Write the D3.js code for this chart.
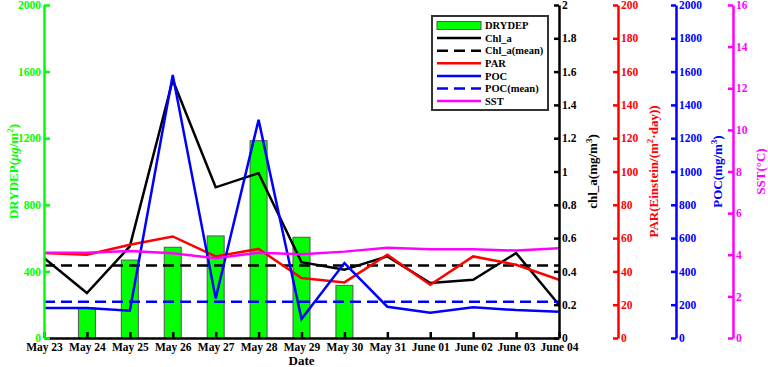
<!DOCTYPE html>
<html>
<head>
<meta charset="utf-8">
<script src="https://cdn.jsdelivr.net/npm/d3@7"></script>
<style>
  body { margin: 0; background: #fff; }
  svg text { font-family: "Liberation Serif", "Times New Roman", serif; font-weight: bold; }
</style>
</head>
<body>
<script>
// Data
const dates = ["May 23", "May 24", "May 25", "May 26", "May 27", "May 28", "May 29",
               "May 30", "May 31", "June 01", "June 02", "June 03", "June 04"];
const drydep = [null, 180, 468, 545, 613, 1185, 605, 316, null, null, null, null, null];
const chlA = [0.48, 0.27, 0.55, 1.55, 0.905, 0.99, 0.455, 0.41, 0.49, 0.33, 0.35, 0.51, 0.20];
const chlAMean = 0.435;
const par = [51, 50, 56, 61, 49, 53.5, 36, 33.4, 50, 32, 49, 44, 35];
const poc = [180, 180, 164, 1580, 238, 1310, 114, 450, 188, 152, 184, 168, 158];
const pocMean = 218;
const sst = [4.1, 4.1, 4.18, 4.07, 3.83, 4.1, 4.02, 4.15, 4.34, 4.26, 4.26, 4.2, 4.31];

const legendLabels = ["DRYDEP", "Chl_a", "Chl_a(mean)", "PAR", "POC", "POC(mean)", "SST"];

const width = 768, height = 367;
const plotLeft = 44, plotRight = 559, plotTop = 5, plotBottom = 338;

const svg = d3.select("body").append("svg")
    .attr("width", width)
    .attr("height", height)
    .attr("font-family", "Liberation Serif, serif");

const x = d3.scalePoint().domain(dates).range([plotLeft, plotRight]);
const yDry = d3.scaleLinear().domain([0, 2000]).range([plotBottom, plotTop]);
const yChl = d3.scaleLinear().domain([0, 2]).range([plotBottom, plotTop]);
const yPar = d3.scaleLinear().domain([0, 200]).range([plotBottom, plotTop]);
const yPoc = d3.scaleLinear().domain([0, 2000]).range([plotBottom, plotTop]);
const ySst = d3.scaleLinear().domain([0, 16]).range([plotBottom, plotTop]);

// Bars
svg.append("g").selectAll("rect")
    .data(dates.map((d, i) => ({ date: d, v: drydep[i] })).filter(d => d.v != null))
    .join("rect")
    .attr("x", d => x(d.date) - 8.5)
    .attr("y", d => yDry(d.v))
    .attr("width", 17)
    .attr("height", d => yDry(0) - yDry(d.v))
    .attr("fill", "#00ff00")
    .attr("stroke", "#555")
    .attr("stroke-width", 1);

// Lines
function drawLine(values, scale, color) {
    const line = d3.line()
        .x((d, i) => x(dates[i]))
        .y(d => scale(d));
    svg.append("path")
        .datum(values)
        .attr("fill", "none")
        .attr("stroke", color)
        .attr("stroke-width", 2.5)
        .attr("d", line);
}

function drawMean(value, scale, color) {
    svg.append("line")
        .attr("x1", x(dates[0]))
        .attr("x2", x(dates[dates.length - 1]))
        .attr("y1", scale(value))
        .attr("y2", scale(value))
        .attr("stroke", color)
        .attr("stroke-width", 2.5)
        .attr("stroke-dasharray", "11,6");
}

drawLine(chlA, yChl, "#000000");
drawMean(chlAMean, yChl, "#000000");
drawLine(par, yPar, "#ff0000");
drawLine(poc, yPoc, "#0000ff");
drawMean(pocMean, yPoc, "#0000ff");
drawLine(sst, ySst, "#ff00ff");

// Axes
function styleAxis(g, color) {
    g.attr("font-family", null);
    g.select(".domain").attr("stroke", color).attr("stroke-width", 2.5);
    g.selectAll(".tick line").attr("stroke", color).attr("stroke-width", 2.5);
    g.selectAll(".tick text").attr("fill", color).attr("font-size", 11.5);
}

const xAxis = svg.append("g")
    .attr("transform", `translate(0,${plotBottom})`)
    .call(d3.axisBottom(x).tickSizeInner(-6).tickSizeOuter(0).tickPadding(5));
styleAxis(xAxis, "#000");

const leftAxis = svg.append("g")
    .attr("transform", `translate(${plotLeft},0)`)
    .call(d3.axisLeft(yDry).tickValues(d3.range(0, 2001, 400)).tickFormat(d3.format("d"))
        .tickSizeInner(-6).tickSizeOuter(0).tickPadding(3));
styleAxis(leftAxis, "#00ff00");

const rightAxes = [
    { scale: yChl, pos: 559, color: "#000000" },
    { scale: yPar, pos: 618, color: "#ff0000" },
    { scale: yPoc, pos: 676, color: "#0000ff" },
    { scale: ySst, pos: 733, color: "#ff00ff" }
];
rightAxes.forEach(a => {
    const g = svg.append("g")
        .attr("transform", `translate(${a.pos},0)`)
        .call(d3.axisRight(a.scale).ticks(10).tickFormat(d3.format("~g"))
            .tickSizeInner(-5).tickSizeOuter(0).tickPadding(3));
    styleAxis(g, a.color);
});

// Axis titles
const midY = (plotTop + plotBottom) / 2;
function yTitle(xPos, color, build) {
    const t = svg.append("text")
        .attr("transform", `translate(${xPos},${midY}) rotate(-90)`)
        .attr("text-anchor", "middle")
        .attr("font-size", 13)
        .attr("fill", color);
    build(t);
}
yTitle(18, "#00ff00", t => {
    t.append("tspan").text("DRYDEP(");
    t.append("tspan").attr("font-style", "italic").text("μg");
    t.append("tspan").text("/m");
    t.append("tspan").attr("dy", -5).attr("font-size", 9).text("2");
    t.append("tspan").attr("dy", 5).text(")");
});
yTitle(597, "#000000", t => {
    t.append("tspan").text("chl_a(mg/m");
    t.append("tspan").attr("dy", -5).attr("font-size", 9).text("3");
    t.append("tspan").attr("dy", 5).text(")");
});
yTitle(658, "#ff0000", t => {
    t.append("tspan").text("PAR(Einstein/(m");
    t.append("tspan").attr("dy", -5).attr("font-size", 9).text("2");
    t.append("tspan").attr("dy", 5).text("·day))");
});
yTitle(722, "#0000ff", t => {
    t.append("tspan").text("POC(mg/m");
    t.append("tspan").attr("dy", -5).attr("font-size", 9).text("3");
    t.append("tspan").attr("dy", 5).text(")");
});
yTitle(765, "#ff00ff", t => t.text("SST(°C)"));

svg.append("text")
    .attr("x", (plotLeft + plotRight) / 2)
    .attr("y", 365)
    .attr("text-anchor", "middle")
    .attr("font-size", 13)
    .attr("fill", "#000")
    .text("Date");

// Legend
const legend = svg.append("g");
legend.append("rect")
    .attr("x", 432).attr("y", 16)
    .attr("width", 116).attr("height", 94)
    .attr("fill", "#fff")
    .attr("stroke", "#333")
    .attr("stroke-width", 2);

const legendStyles = [
    { type: "bar" },
    { color: "#000000" },
    { color: "#000000", dash: "11,6" },
    { color: "#ff0000" },
    { color: "#0000ff" },
    { color: "#0000ff", dash: "11,6" },
    { color: "#ff00ff" }
];
legendLabels.forEach((label, i) => {
    const cy = 25.5 + i * 12.6;
    const s = legendStyles[i];
    if (s.type === "bar") {
        legend.append("rect")
            .attr("x", 437).attr("y", cy - 4)
            .attr("width", 44).attr("height", 8)
            .attr("fill", "#00ff00")
            .attr("stroke", "#555");
    } else {
        legend.append("line")
            .attr("x1", 437).attr("x2", 481)
            .attr("y1", cy).attr("y2", cy)
            .attr("stroke", s.color)
            .attr("stroke-width", 2.5)
            .attr("stroke-dasharray", s.dash || null);
    }
    legend.append("text")
        .attr("x", 485).attr("y", cy)
        .attr("dy", "0.35em")
        .attr("font-size", 10.5)
        .attr("fill", "#000")
        .text(label);
});
</script>
</body>
</html>
